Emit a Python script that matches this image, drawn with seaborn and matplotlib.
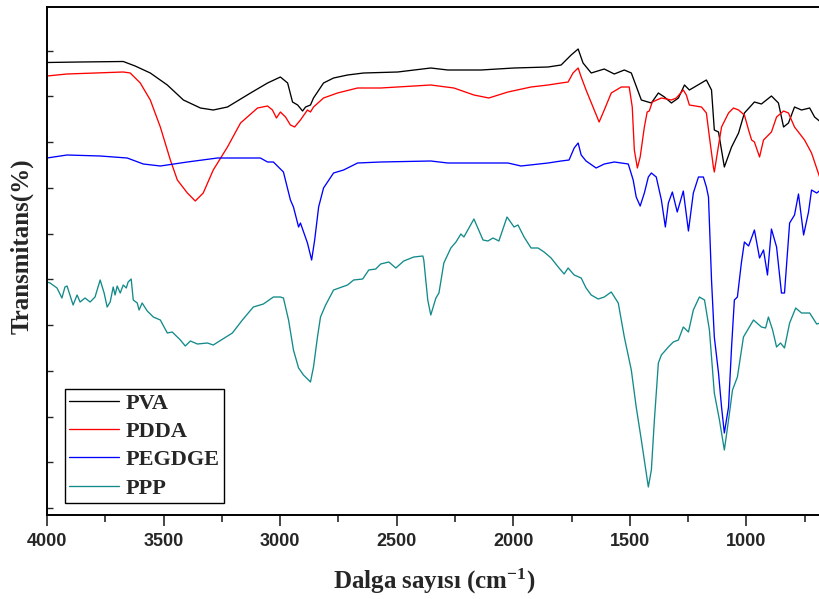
import numpy as np
import pandas as pd
import matplotlib
matplotlib.use("Agg")
import matplotlib.pyplot as plt
from matplotlib.ticker import MultipleLocator, FixedLocator
import seaborn as sns

# ---------------- data ----------------
samples = ["PVA", "PDDA", "PEGDGE", "PPP"]
colors = ["#000000", "#ff0000", "#0000ff", "#138a8a"]

pva_wn = [4000, 3858, 3673, 3622, 3557, 3484, 3415, 3342, 3287, 3226, 3127, 3054, 2999, 2968,
          2947, 2925, 2904, 2891, 2870, 2857, 2814, 2771, 2711, 2642, 2496, 2354, 2281, 2139,
          1997, 1851, 1795, 1752, 1722, 1701, 1666, 1610, 1567, 1524, 1494, 1451, 1408, 1378,
          1352, 1322, 1292, 1266, 1245, 1223, 1172, 1150, 1138, 1120, 1095, 1064, 1034, 1009,
          966, 936, 893, 863, 841, 820, 794, 764, 729, 708, 682]
pva_t = [90.5, 90.6, 90.7, 89.8, 88.4, 86.0, 83.0, 81.4, 81.0, 81.6, 84.4, 86.4, 87.6, 86.4,
         82.6, 82.0, 80.8, 81.6, 82.0, 83.4, 86.4, 87.4, 88.0, 88.4, 88.6, 89.4, 89.0, 89.0,
         89.4, 89.6, 90.0, 92.0, 93.2, 90.4, 88.4, 89.2, 88.2, 89.0, 88.4, 83.0, 82.4, 84.4,
         83.6, 82.4, 83.4, 86.0, 85.0, 85.6, 87.0, 85.0, 77.0, 76.6, 69.6, 73.6, 76.4, 80.4,
         82.6, 82.2, 83.8, 82.4, 77.6, 78.4, 81.6, 81.0, 81.4, 79.6, 78.6]

pdda_wn = [4000, 3914, 3673, 3643, 3600, 3557, 3514, 3471, 3441, 3398, 3364, 3330, 3287, 3226,
           3170, 3097, 3054, 3033, 3016, 2999, 2977, 2956, 2938, 2913, 2883, 2870, 2857, 2814,
           2754, 2668, 2569, 2354, 2255, 2169, 2105, 2023, 1924, 1851, 1795, 1765, 1744, 1722,
           1709, 1688, 1653, 1632, 1610, 1580, 1537, 1503, 1490, 1481, 1468, 1456, 1438, 1426,
           1417, 1404, 1365, 1322, 1301, 1271, 1258, 1245, 1193, 1172, 1159, 1142, 1138, 1125,
           1107, 1077, 1056, 1034, 1009, 991, 978, 966, 944, 927, 893, 871, 841, 820, 794, 751,
           721, 682]
pdda_t = [87.8, 88.2, 88.6, 88.4, 86.4, 83.0, 77.6, 71.0, 67.0, 64.4, 62.8, 64.4, 69.0, 73.6,
          78.4, 81.4, 81.8, 81.0, 79.4, 80.6, 79.6, 78.0, 77.6, 79.0, 81.0, 80.6, 81.6, 83.4,
          84.4, 85.4, 85.4, 86.0, 85.4, 84.0, 83.4, 84.6, 85.6, 86.0, 86.4, 86.6, 88.4, 89.4,
          87.6, 85.0, 81.0, 78.6, 81.0, 84.4, 85.6, 85.6, 81.6, 73.0, 69.4, 71.6, 77.6, 80.6,
          80.8, 82.6, 83.4, 83.0, 83.4, 85.0, 84.0, 82.0, 81.6, 80.4, 75.6, 69.6, 68.6, 72.4,
          77.6, 80.4, 81.4, 81.0, 80.0, 77.0, 75.0, 74.6, 71.6, 75.0, 76.6, 79.6, 80.8, 80.4,
          77.6, 75.0, 72.4, 67.0]

pegdge_wn = [4000, 3914, 3772, 3656, 3587, 3514, 3398, 3269, 3085, 3054, 3029, 2986, 2956, 2943,
             2921, 2913, 2883, 2865, 2852, 2835, 2814, 2771, 2728, 2668, 2569, 2354, 2281, 2139,
             2023, 1967, 1851, 1795, 1761, 1739, 1722, 1709, 1688, 1645, 1610, 1567, 1507, 1486,
             1473, 1456, 1438, 1421, 1408, 1387, 1365, 1348, 1335, 1318, 1297, 1271, 1249, 1228,
             1206, 1185, 1172, 1163, 1150, 1138, 1120, 1107, 1095, 1077, 1064, 1052, 1039, 1022,
             1009, 991, 966, 944, 927, 910, 893, 871, 850, 837, 815, 794, 777, 755, 734, 721,
             699, 682]
pegdge_t = [71.4, 72.0, 71.8, 71.4, 70.2, 69.8, 70.6, 71.4, 71.4, 70.6, 70.6, 68.6, 63.0, 61.6,
            57.6, 58.4, 54.4, 51.0, 55.0, 61.6, 65.4, 68.4, 69.0, 70.4, 70.6, 70.8, 70.4, 70.4,
            70.4, 69.8, 70.4, 70.8, 71.0, 73.4, 74.4, 72.0, 70.8, 69.4, 70.2, 70.6, 70.2, 67.0,
            63.6, 61.8, 64.4, 67.6, 68.4, 67.6, 63.0, 57.6, 62.4, 64.6, 60.6, 64.8, 56.8, 64.4,
            67.6, 67.6, 65.6, 63.6, 47.0, 35.6, 28.4, 21.6, 16.4, 21.6, 33.6, 43.0, 43.6, 50.4,
            54.6, 53.8, 57.0, 51.4, 53.0, 48.0, 57.2, 53.6, 44.4, 44.4, 58.4, 60.0, 64.2, 56.0,
            60.6, 65.0, 64.4, 65.0]

ppp_wn = [4000, 3987, 3957, 3936, 3923, 3914, 3888, 3871, 3858, 3837, 3815, 3794, 3772, 3755,
          3742, 3729, 3716, 3708, 3699, 3686, 3673, 3660, 3652, 3639, 3630, 3613, 3605, 3592,
          3570, 3544, 3514, 3484, 3463, 3428, 3407, 3385, 3355, 3312, 3287, 3205, 3162, 3115,
          3072, 3029, 2999, 2986, 2964, 2943, 2921, 2900, 2870, 2857, 2840, 2827, 2805, 2771,
          2711, 2685, 2646, 2620, 2590, 2569, 2534, 2504, 2470, 2427, 2388, 2384, 2367, 2354,
          2332, 2319, 2298, 2268, 2246, 2225, 2212, 2169, 2130, 2109, 2087, 2062, 2027, 1997,
          1980, 1954, 1924, 1894, 1868, 1838, 1804, 1782, 1765, 1739, 1709, 1688, 1666, 1636,
          1610, 1580, 1550, 1524, 1494, 1473, 1451, 1430, 1421, 1408, 1395, 1378, 1365, 1335,
          1314, 1292, 1271, 1249, 1228, 1202, 1180, 1159, 1138, 1116, 1095, 1077, 1060, 1039,
          1013, 970, 936, 918, 906, 888, 871, 854, 837, 815, 789, 764, 729, 699, 682]
ppp_t = [46.6, 46.4, 45.4, 43.4, 45.6, 45.8, 42.0, 44.0, 42.6, 43.4, 42.6, 43.6, 47.0, 44.4,
         41.6, 42.6, 45.6, 44.0, 45.8, 44.4, 46.0, 45.4, 46.6, 47.2, 43.0, 42.4, 41.0, 42.4,
         40.8, 39.6, 39.0, 36.4, 36.6, 35.0, 33.8, 34.8, 34.2, 34.4, 34.0, 36.4, 39.0, 41.6,
         42.2, 43.6, 43.6, 43.4, 39.0, 33.0, 29.4, 28.0, 26.6, 29.6, 35.6, 39.6, 42.0, 45.0,
         46.0, 47.0, 47.2, 49.0, 49.2, 50.2, 50.6, 49.4, 50.8, 51.6, 51.8, 51.0, 43.0, 40.0,
         43.4, 44.4, 50.4, 53.4, 54.6, 56.2, 55.6, 59.2, 55.0, 54.8, 55.4, 54.8, 59.6, 57.6,
         58.0, 55.6, 53.4, 53.4, 52.6, 51.4, 49.4, 48.2, 49.4, 48.0, 47.4, 45.4, 44.0, 43.2,
         43.6, 44.6, 42.4, 35.6, 29.0, 21.6, 15.0, 8.4, 5.6, 9.0, 19.0, 30.4, 32.0, 33.6,
         34.6, 35.0, 37.6, 36.6, 41.0, 43.6, 43.0, 37.0, 24.4, 19.0, 13.0, 19.0, 25.0, 27.6,
         35.6, 39.0, 37.6, 37.4, 39.6, 37.0, 33.6, 34.4, 33.4, 38.4, 41.4, 40.4, 40.4, 38.2, 38.4]

x_ticks = [4000, 3500, 3000, 2500, 2000, 1500, 1000]

# ---------------- long-form table ----------------
frames = []
for name, wn, t in [("PVA", pva_wn, pva_t), ("PDDA", pdda_wn, pdda_t),
                    ("PEGDGE", pegdge_wn, pegdge_t), ("PPP", ppp_wn, ppp_t)]:
    frames.append(pd.DataFrame({"wn": wn, "T": t, "sample": name}))
df = pd.concat(frames, ignore_index=True)

# ---------------- style ----------------
sns.set_style("white")
plt.rcParams["font.family"] = ["Liberation Serif", "DejaVu Serif"]
plt.rcParams["mathtext.fontset"] = "custom"
plt.rcParams["mathtext.rm"] = "Liberation Serif:bold"
plt.rcParams["mathtext.bf"] = "Liberation Serif:bold"
plt.rcParams["mathtext.default"] = "bf"

fig = plt.figure(figsize=(8.19, 5.99), dpi=100)
ax = fig.add_axes([47 / 819, 1 - 515 / 599, 1 - 47 / 819 + 0.002, (515 - 7) / 599])

sns.lineplot(data=df, x="wn", y="T", hue="sample", hue_order=samples,
             palette=dict(zip(samples, colors)), sort=False, estimator=None,
             linewidth=0.95, ax=ax)

ax.set_xlim(4000, 682)
ax.set_ylim(0, 101.6)

ax.xaxis.set_major_locator(FixedLocator(x_ticks))
ax.xaxis.set_minor_locator(MultipleLocator(250))
ax.tick_params(axis="x", which="major", direction="out", length=8, width=1.2,
               pad=5, labelsize=13, bottom=True, top=False)
ax.tick_params(axis="x", which="minor", direction="out", length=5, width=1.2,
               bottom=True, top=False)
for lab in ax.get_xticklabels():
    lab.set_fontfamily("Liberation Sans")
    lab.set_fontweight("bold")

ax.yaxis.set_major_locator(FixedLocator(list(np.arange(1.4, 101, 9.15))))
ax.tick_params(axis="y", which="major", direction="in", length=4, width=1.0,
               left=True, right=False, labelleft=False)

for side in ["left", "bottom", "top"]:
    ax.spines[side].set_linewidth(1.4)
    ax.spines[side].set_color("black")
ax.spines["right"].set_visible(False)

ax.set_xlabel("Dalga sayısı (cm$^{-1}$)", fontsize=18, fontweight="bold",
              fontfamily="Liberation Serif", labelpad=12)
ax.set_ylabel("Transmitans(%)", fontsize=18, fontweight="bold",
              fontfamily="Liberation Serif")
ax.yaxis.set_label_coords(-0.017, 0.53)

leg = ax.legend(loc="lower left", bbox_to_anchor=(18 / 772, 12 / 508),
                bbox_transform=ax.transAxes, borderaxespad=0,
                prop={"family": "Liberation Serif", "weight": "bold", "size": 16},
                frameon=True, fancybox=False, framealpha=1, edgecolor="black",
                handlelength=2.25, handletextpad=0.28, labelspacing=0.35,
                borderpad=0.2, title=None)
leg.get_frame().set_linewidth(1.0)

fig.savefig("out.png", dpi=100)
